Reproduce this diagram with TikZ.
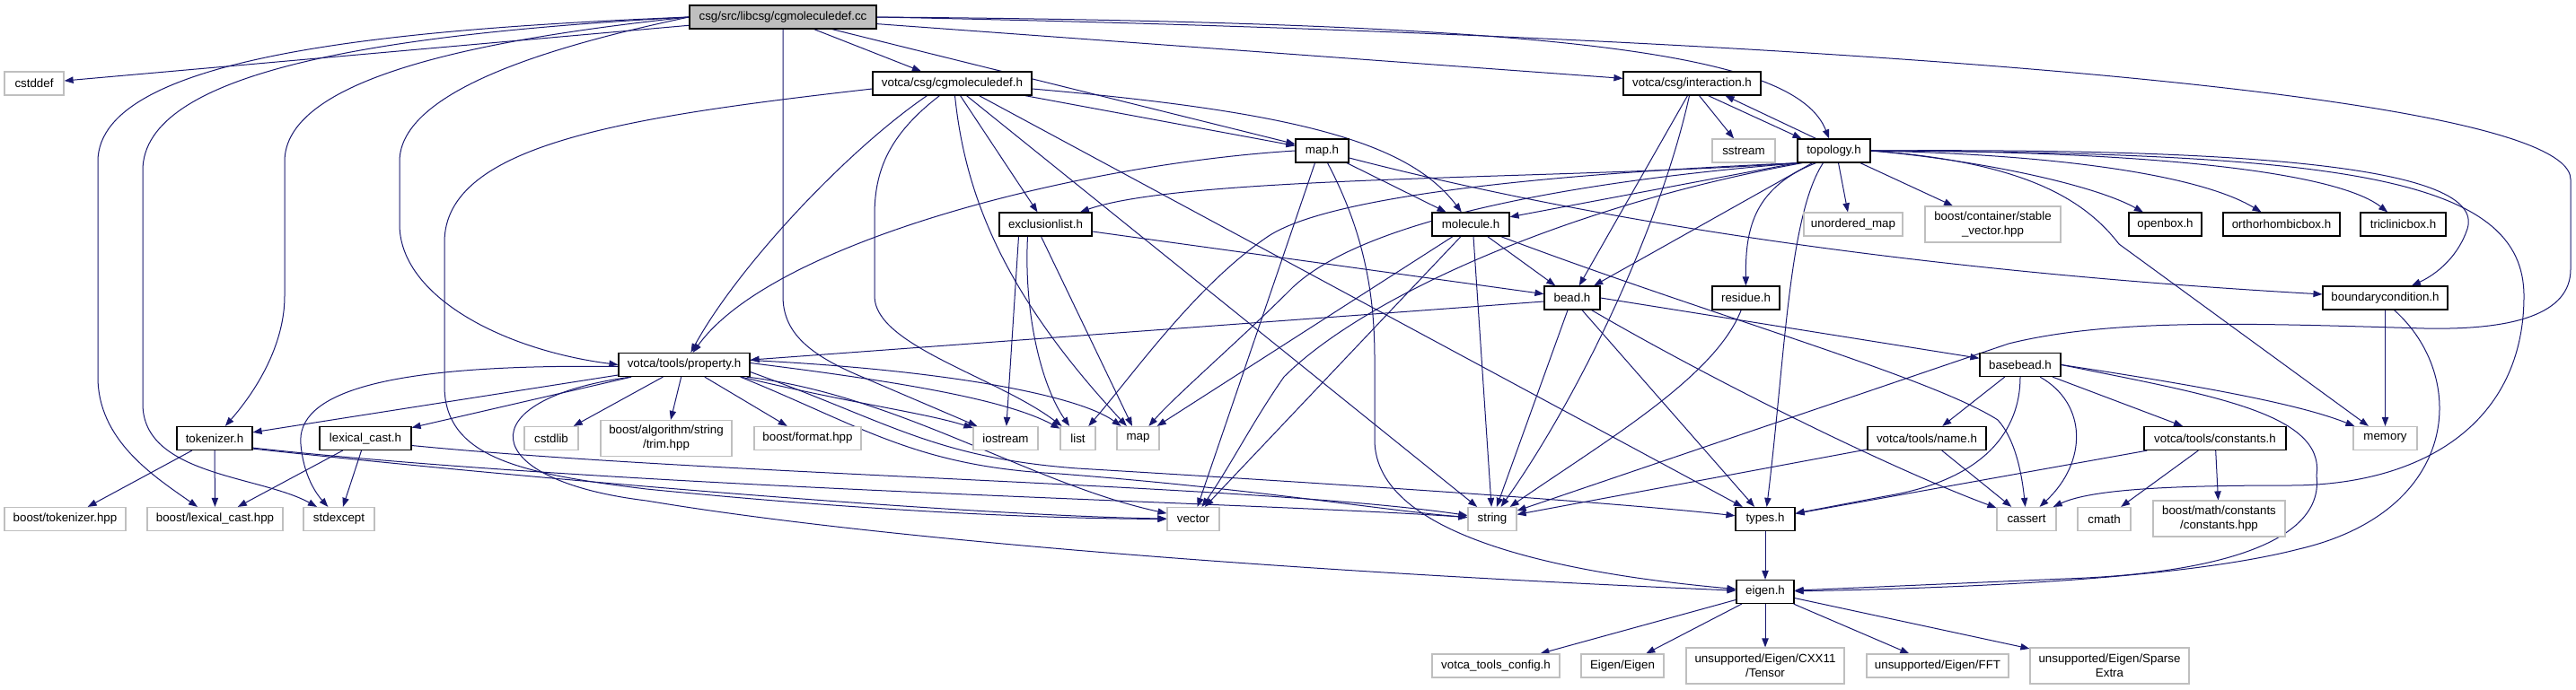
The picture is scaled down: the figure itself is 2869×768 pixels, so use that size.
\documentclass[tikz,border=0pt]{standalone}
\usepackage{fontspec}
\setmainfont{Liberation Sans}
\usetikzlibrary{arrows.meta,calc}
\definecolor{edgec}{HTML}{191970}
\definecolor{greyc}{HTML}{BFBFBF}
\pgfdeclarelayer{edges}
\pgfsetlayers{edges,main}
\tikzset{
  wh/.style 2 args={minimum width=#1*0.75pt,minimum height=#2*0.75pt},
  inc/.style={draw=black,line width=0.9pt,fill=white,inner sep=0pt,align=center,font=\fontsize{10}{12}\selectfont},
  ext/.style={draw=greyc,line width=0.9pt,fill=white,inner sep=0pt,align=center,font=\fontsize{10}{12}\selectfont},
  rootbox/.style={draw=black,line width=0.9pt,fill=greyc,inner sep=0pt,align=center,font=\fontsize{10}{12}\selectfont},
  ln/.style={draw=edgec,line width=0.75pt,-{Triangle[length=7.5pt,width=5.5pt]}}
}
\begin{document}
\begin{tikzpicture}[x=0.75pt,y=-0.75pt]
\useasboundingbox (0,0) rectangle (2869,768);
% ---------- nodes ----------
\node[rootbox,wh={208}{26}] (root) at (872,19) {csg/src/libcsg/cgmoleculedef.cc};
\node[ext,wh={66}{26}] (cstddef) at (38,93) {cstddef};
\node[inc,wh={177}{26}] (cgmol) at (1060.5,93) {votca/csg/cgmoleculedef.h};
\node[inc,wh={153}{26}] (inter) at (1884.5,93) {votca/csg/interaction.h};
\node[inc,wh={59}{26}] (maph) at (1472.5,168) {map.h};
\node[ext,wh={70}{26}] (sstream) at (1942,168) {sstream};
\node[inc,wh={81}{26}] (topo) at (2042.5,168) {topology.h};
\node[inc,wh={103}{26}] (excl) at (1164.5,250) {exclusionlist.h};
\node[inc,wh={86}{26}] (mol) at (1638,250) {molecule.h};
\node[ext,wh={110}{26}] (umap) at (2064,250) {unordered\_map};
\node[ext,wh={151}{40}] (stable) at (2219.5,250) {boost/container/stable\\\_vector.hpp};
\node[inc,wh={81}{26}] (openbox) at (2411.5,250) {openbox.h};
\node[inc,wh={130}{26}] (ortho) at (2541,250) {orthorhombicbox.h};
\node[inc,wh={95}{26}] (tric) at (2676.5,250) {triclinicbox.h};
\node[inc,wh={62}{26}] (bead) at (1751,332) {bead.h};
\node[inc,wh={75}{26}] (residue) at (1944.5,332) {residue.h};
\node[inc,wh={139}{26}] (bc) at (2656.5,332) {boundarycondition.h};
\node[inc,wh={146}{26}] (prop) at (762,406.5) {votca/tools/property.h};
\node[inc,wh={90}{26}] (basebead) at (2250,406.5) {basebead.h};
\node[inc,wh={84}{26}] (tok) at (239,488.5) {tokenizer.h};
\node[inc,wh={102}{26}] (lexc) at (407,488.5) {lexical\_cast.h};
\node[ext,wh={60}{26}] (cstdlib) at (614,488.5) {cstdlib};
\node[ext,wh={146}{40}] (trim) at (742,488.5) {boost/algorithm/string\\/trim.hpp};
\node[ext,wh={119}{26}] (format) at (899.5,488.5) {boost/format.hpp};
\node[ext,wh={72}{26}] (iostream) at (1120,488.5) {iostream};
\node[ext,wh={39}{26}] (list) at (1200.5,488.5) {list};
\node[ext,wh={47}{26}] (map) at (1267.5,488.5) {map};
\node[inc,wh={132}{26}] (name) at (2146,488.5) {votca/tools/name.h};
\node[inc,wh={158}{26}] (const) at (2467,488.5) {votca/tools/constants.h};
\node[ext,wh={71}{26}] (memory) at (2656.5,488.5) {memory};
\node[ext,wh={135}{26}] (btok) at (72.5,578.5) {boost/tokenizer.hpp};
\node[ext,wh={151}{26}] (blex) at (239.5,578.5) {boost/lexical\_cast.hpp};
\node[ext,wh={79}{26}] (stdexcept) at (377.5,578.5) {stdexcept};
\node[ext,wh={58}{26}] (vector) at (1329,578.5) {vector};
\node[ext,wh={54}{26}] (string) at (1662,578.5) {string};
\node[inc,wh={66}{26}] (types) at (1966,578.5) {types.h};
\node[ext,wh={66}{26}] (cassert) at (2257,578.5) {cassert};
\node[ext,wh={59}{26}] (cmath) at (2343.5,578.5) {cmath};
\node[ext,wh={147}{40}] (bmath) at (2471.5,578) {boost/math/constants\\/constants.hpp};
\node[inc,wh={64}{26}] (eigen) at (1966,659.5) {eigen.h};
\node[ext,wh={142}{26}] (vtc) at (1666,742) {votca\_tools\_config.h};
\node[ext,wh={92}{26}] (EE) at (1807,742) {Eigen/Eigen};
\node[ext,wh={176}{40}] (tensor) at (1966,742) {unsupported/Eigen/CXX11\\/Tensor};
\node[ext,wh={158}{26}] (fft) at (2158,742) {unsupported/Eigen/FFT};
\node[ext,wh={177}{40}] (sparse) at (2349.5,742) {unsupported/Eigen/Sparse\\Extra};
% ---------- edges ----------
\begin{pgfonlayer}{edges}
\fill[white] (0,0) rectangle (2869,768);
% root
\draw[ln] (root) -- (cstddef);
\draw[ln] (root.west) .. controls (450,32) and (109,60) .. (109,180) -- (109,420) .. controls (109,490) and (170,530) .. (blex);
\draw[ln] (root.west) .. controls (420,38) and (159,80) .. (159,190) -- (159,450) .. controls (159,530) and (290,530) .. (stdexcept);
\draw[ln] (root.west) .. controls (520,45) and (317,90) .. (317,180) -- (317,330) .. controls (317,380) and (290,430) .. (tok);
\draw[ln] (root.west) .. controls (620,50) and (445,100) .. (445,180) -- (445,250) .. controls (445,330) and (560,390) .. (prop.west);
\draw[ln] (root.south) -- (872,330) .. controls (872,370) and (900,395) .. (960,420) -- (iostream);
\draw[ln] (root) -- (cgmol);
\draw[ln] (root) -- (maph);
\draw[ln] (root) -- (inter);
\draw[ln] (root.east) .. controls (1750,25) and (2000,60) .. (topo);
\draw[ln] (root.east) .. controls (1800,35) and (2863,90) .. (2863,200) -- (2863,300) .. controls (2863,350) and (2800,368) .. (2700,366) .. controls (2500,360) and (2350,355) .. (2237,383) -- (string);
% cgmoleculedef.h
\draw[ln] ($(cgmol.south)+(-28,0)$) .. controls (940,170) and (820,300) .. (prop);
\draw[ln] ($(cgmol.south)+(-14,0)$) .. controls (990,150) and (974,190) .. (974,240) -- (974,330) .. controls (974,385) and (1110,420) .. (list);
\draw[ln] ($(cgmol.south)+(3,0)$) .. controls (1075,220) and (1120,330) .. (map);
\draw[ln] (cgmol) -- (excl);
\draw[ln] ($(cgmol.south)+(16,0)$) -- (string);
\draw[ln] ($(cgmol.south)+(30,0)$) -- (types);
\draw[ln] ($(cgmol.south east)+(-8,0)$) -- (maph);
\draw[ln] ($(cgmol.east)+(0,6)$) .. controls (1450,125) and (1570,160) .. (mol);
\draw[ln] ($(cgmol.west)+(0,6)$) .. controls (700,130) and (495,160) .. (495,270) -- (495,430) .. controls (495,510) and (580,528) .. (720,545) .. controls (950,568) and (1150,578) .. (vector);
% map.h
\draw[ln] (maph.west) .. controls (1200,183) and (860,270) .. (prop);
\draw[ln] ($(maph.south)+(-8,0)$) -- (vector);
\draw[ln] ($(maph.south)+(6,0)$) .. controls (1520,260) and (1531,330) .. (1531,400) -- (1531,490) .. controls (1531,600) and (1750,640) .. (eigen);
\draw[ln] (maph) -- (mol);
\draw[ln] ($(maph.east)+(0,8)$) .. controls (1750,240) and (2100,300) .. (bc);
% interaction.h
\draw[ln] ($(inter.south)+(-5,0)$) -- (bead);
\draw[ln] ($(inter.south)+(-3,0)$) .. controls (1850,250) and (1760,440) .. (string);
\draw[ln] ($(inter.south)+(8,0)$) -- (sstream);
\draw[ln] ($(inter.south)+(18,0)$) -- ($(topo.north)+(-36,0)$);
% topology.h
\draw[ln] ($(topo.north)+(-20,0)$) -- ($(inter.south)+(37,0)$);
\draw[ln] (topo.south west) .. controls (1750,200) and (1320,195) .. (excl);
\draw[ln] (topo.south west) -- (mol);
\draw[ln] ($(topo.south)+(-24,0)$) -- (bead);
\draw[ln] ($(topo.south west)+(2,0)$) .. controls (1760,192) and (1480,215) .. (1410,265) .. controls (1330,320) and (1260,420) .. (list);
\draw[ln] ($(topo.south west)+(4,0)$) .. controls (1750,202) and (1520,245) .. (1440,320) .. controls (1380,380) and (1310,440) .. (map);
\draw[ln] ($(topo.south west)+(6,0)$) .. controls (1750,228) and (1520,330) .. (1430,420) .. controls (1395,470) and (1370,520) .. (vector);
\draw[ln] ($(topo.south)+(-20,0)$) .. controls (1950,210) and (1944,260) .. (residue);
\draw[ln] ($(topo.south)+(5,0)$) -- ($(umap.north)+(-6,0)$);
\draw[ln] ($(topo.south)+(-12,0)$) .. controls (1992,240) and (1988,400) .. (types);
\draw[ln] (topo) -- (stable);
\draw[ln] (topo.east) .. controls (2200,178) and (2330,205) .. (openbox);
\draw[ln] (topo.east) .. controls (2290,172) and (2450,195) .. (ortho);
\draw[ln] (topo.east) .. controls (2380,168) and (2600,190) .. (tric);
\draw[ln] (topo.east) .. controls (2500,165) and (2770,185) .. (2748,255) .. controls (2738,285) and (2715,305) .. (bc);
\draw[ln] (topo.east) .. controls (2250,180) and (2320,220) .. (2360,272) -- (memory);
\draw[ln] (topo.east) .. controls (2620,170) and (2811,200) .. (2811,330) .. controls (2811,470) and (2700,541) .. (2550,541) .. controls (2420,541) and (2330,545) .. (cassert);
% exclusionlist.h
\draw[ln] ($(excl.south)+(-30,0)$) -- (iostream);
\draw[ln] ($(excl.south)+(-20,0)$) .. controls (1140,350) and (1160,430) .. (list);
\draw[ln] ($(excl.south)+(-5,0)$) -- (map);
\draw[ln] ($(excl.east)+(0,8)$) -- (bead);
% molecule.h
\draw[ln] (mol) -- (bead);
\draw[ln] ($(mol.south)+(-20,0)$) -- (map);
\draw[ln] ($(mol.south)+(-11,0)$) -- (vector);
\draw[ln] ($(mol.south)+(3,0)$) -- (string);
\draw[ln] ($(mol.south east)+(-10,0)$) .. controls (1900,350) and (2150,420) .. (2225,468) .. controls (2245,490) and (2252,530) .. (cassert);
% bead.h
\draw[ln] ($(bead.west)+(0,4)$) -- (prop);
\draw[ln] ($(bead.south)+(-5,0)$) -- (string);
\draw[ln] ($(bead.south)+(11,0)$) -- (types);
\draw[ln] ($(bead.south east)+(-10,0)$) .. controls (1900,420) and (2100,520) .. (cassert);
\draw[ln] (bead.east) -- (basebead);
% residue.h
\draw[ln] (residue) .. controls (1910,420) and (1790,490) .. (string);
% boundarycondition.h
\draw[ln] (bc) -- (memory);
\draw[ln] ($(bc.south)+(10,0)$) .. controls (2750,420) and (2740,570) .. (2560,612) .. controls (2420,648) and (2150,656) .. (eigen);
% basebead.h
\draw[ln] (basebead) -- (name);
\draw[ln] (basebead.south) .. controls (2250,480) and (2210,535) .. (2100,553) -- (types);
\draw[ln] ($(basebead.south)+(22,0)$) .. controls (2325,450) and (2325,515) .. (cassert);
\draw[ln] (basebead) -- (const);
\draw[ln] (basebead.east) .. controls (2450,430) and (2560,450) .. (memory);
\draw[ln] (basebead.east) .. controls (2460,440) and (2590,460) .. (2580,530) .. controls (2590,610) and (2450,640) .. (2300,645) -- (eigen);
% name.h, constants.h
\draw[ln] (name) -- (cassert);
\draw[ln] (name) -- (string);
\draw[ln] (const) -- (cmath);
\draw[ln] (const) -- (bmath);
\draw[ln] (const) -- (types);
% types.h, eigen.h
\draw[ln] (types) -- (eigen);
\draw[ln] (eigen) -- (vtc);
\draw[ln] (eigen) -- (EE);
\draw[ln] (eigen) -- (tensor);
\draw[ln] (eigen) -- (fft);
\draw[ln] (eigen) -- (sparse);
% property.h
\draw[ln] (prop) -- (trim);
\draw[ln] (prop) -- (format);
\draw[ln] ($(prop.south west)+(50,0)$) -- (cstdlib);
\draw[ln] ($(prop.south east)+(-10,0)$) .. controls (950,450) and (1030,460) .. (iostream);
\draw[ln] ($(prop.east)+(0,-2)$) .. controls (1000,425) and (1120,445) .. (list);
\draw[ln] ($(prop.east)+(0,-5)$) .. controls (1050,412) and (1200,440) .. (map);
\draw[ln] ($(prop.west)+(0,2)$) .. controls (420,405) and (330,440) .. (335,495) .. controls (338,530) and (352,550) .. (stdexcept);
\draw[ln] (prop) -- (tok);
\draw[ln] (prop) -- (lexc);
\draw[ln] ($(prop.south west)+(14,0)$) .. controls (520,445) and (530,535) .. (720,558) .. controls (1000,605) and (1500,640) .. (eigen);
\draw[ln] ($(prop.south east)+(-4,0)$) .. controls (1000,440) and (1150,540) .. (vector);
\draw[ln] ($(prop.south east)+(-11,0)$) .. controls (960,475) and (1020,520) .. (1180,528) .. controls (1400,545) and (1550,570) .. (string);
\draw[ln] ($(prop.east)+(0,8)$) .. controls (990,470) and (1040,510) .. (1200,522) .. controls (1500,540) and (1800,560) .. (types);
% tokenizer.h, lexical_cast.h
\draw[ln] (tok) -- (btok);
\draw[ln] (tok) -- (blex);
\draw[ln] ($(tok.south east)+(0,-3)$) .. controls (700,545) and (1400,560) .. (string);
\draw[ln] ($(tok.south east)+(0,-2)$) .. controls (650,540) and (1100,575) .. (vector);
\draw[ln] (lexc) -- (blex);
\draw[ln] (lexc) -- (stdexcept);
\draw[ln] ($(lexc.east)+(0,8)$) .. controls (800,530) and (1400,540) .. (string);
\end{pgfonlayer}
\end{tikzpicture}
\end{document}
